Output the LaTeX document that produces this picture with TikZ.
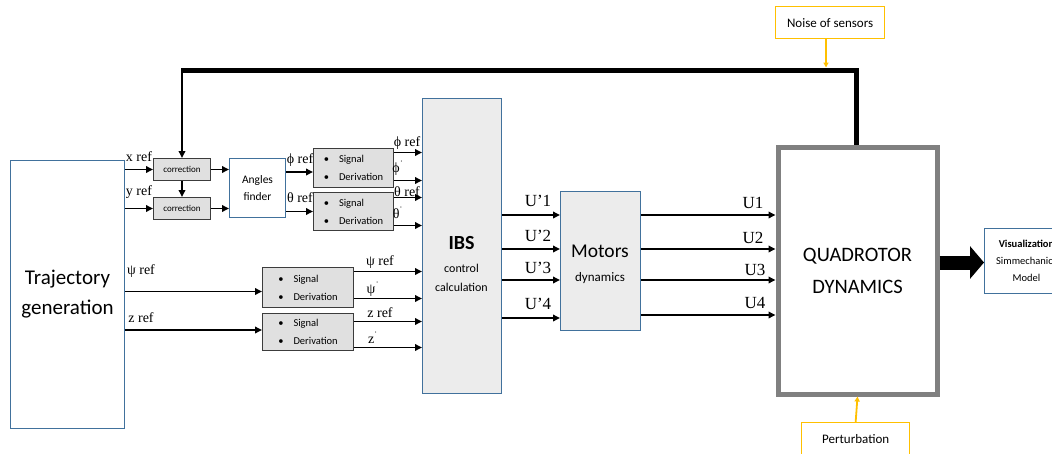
\documentclass[tikz,border=0pt]{standalone}
\usepackage{fontspec}
\setmainfont{Liberation Serif}
\newfontfamily\carl{Carlito}
\usetikzlibrary{arrows.meta}
\definecolor{bluec}{RGB}{65,113,156}
\definecolor{goldc}{RGB}{255,192,0}
\definecolor{lgray}{RGB}{236,236,236}
\definecolor{sdgray}{RGB}{224,224,224}
\definecolor{qgray}{RGB}{128,128,128}
\definecolor{darkc}{RGB}{60,60,60}
\tikzset{
  blk/.style={draw=bluec, line width=1pt, fill=white, inner sep=0pt, align=center, anchor=north west},
  gblk/.style={blk, fill=lgray},
  sdbox/.style={draw=darkc, line width=1pt, fill=sdgray, inner sep=0pt, align=left, anchor=north west,
     font=\carl\fontsize{10.5}{18}\selectfont},
  corrbox/.style={draw=darkc, line width=1pt, fill=sdgray, inner sep=0pt, anchor=north west,
     font=\carl\fontsize{9}{10}\selectfont},
  goldbox/.style={draw=goldc, line width=1.3pt, fill=white, inner sep=0pt, anchor=north west,
     font=\carl\fontsize{13}{15}\selectfont},
  arr/.style={line width=1.8pt, -{Triangle[length=7pt,width=6.5pt]}},
  goldarr/.style={goldc, line width=1.8pt, -{Triangle[length=5pt,width=5pt]}},
  lab/.style={inner sep=0pt, font=\fontsize{14}{14}\selectfont},
  ulab/.style={inner sep=0pt, font=\fontsize{17}{17}\selectfont},
}
\newcommand{\sdtext}{\textbullet\hspace{10pt}Signal\\\textbullet\hspace{10pt}Derivation}
\begin{document}
\begin{tikzpicture}[x=1pt,y=-1pt]
\useasboundingbox (0,0) rectangle (1052,453);
\clip (0,0) rectangle (1052,453);
% main blocks
\node[blk, minimum width=114pt, minimum height=268pt, font=\carl\fontsize{21}{30}\selectfont] (traj) at (10,160) {Trajectory\\generation};
\node[corrbox, minimum width=57pt, minimum height=22pt] (corr1) at (153,158) {correction};
\node[corrbox, minimum width=57pt, minimum height=22pt] (corr2) at (153,197) {correction};
\node[blk, minimum width=56pt, minimum height=59pt, font=\carl\fontsize{11.5}{17}\selectfont] (ang) at (229,158) {Angles\\finder};
\node[sdbox, minimum width=80pt, minimum height=39pt] (sd1) at (313,148) {\sdtext};
\node[sdbox, minimum width=80pt, minimum height=38pt] (sd2) at (313,192) {\sdtext};
\node[sdbox, minimum width=91pt, minimum height=40pt] (sd3) at (262,267) {\sdtext};
\node[sdbox, minimum width=91pt, minimum height=37pt] (sd4) at (262,313) {\sdtext};
\node[gblk, minimum width=79pt, minimum height=295pt] (ibs) at (422,98) {};
\node[font=\carl\bfseries\fontsize{20}{20}\selectfont, inner sep=0pt] (ibst) at (461.5,243) {IBS};
\node[font=\carl\fontsize{12}{19}\selectfont, align=center, inner sep=0pt] (ibsc) at (461.5,278) {control\\calculation};
\node[gblk, minimum width=80pt, minimum height=139pt] (mot) at (560,191) {};
\node[font=\carl\fontsize{19.5}{20}\selectfont, inner sep=0pt] (mott) at (600,251) {Motors};
\node[font=\carl\fontsize{13}{14}\selectfont, inner sep=0pt] (motd) at (600,278) {dynamics};
\node[draw=qgray, line width=5pt, fill=white, inner sep=0pt, anchor=north west, align=center,
      minimum width=159pt, minimum height=247pt, font=\carl\fontsize{20.5}{32}\selectfont] (quad) at (775.5,144.5) {QUADROTOR\\DYNAMICS};
\node[goldbox, minimum width=109pt, minimum height=32pt] (noise) at (775,6) {Noise of sensors};
\node[goldbox, minimum width=108pt, minimum height=36pt] (pert) at (801,422) {\raisebox{4pt}{Perturbation}};
\node[blk, minimum width=84pt, minimum height=65pt, font=\carl\fontsize{10.5}{17}\selectfont] (vis) at (984,228) {\textbf{Visualization}\\Simmechanics\\Model};
% feedback loop
\coordinate (fbR) at (856,70);
\coordinate (fbL) at (182,70);
\draw[line width=5pt, line join=miter] (quad.north -| fbR) -- (fbR) -- ([xshift=-1.5pt]fbL);
\draw[arr] ([yshift=-2pt]fbL) -- (corr1.north -| fbL);
\draw[goldarr] (noise.south -| 826,0) -- ([yshift=2.5pt]fbR -| 826,0);
\draw[goldarr] (pert.north) -- (quad.south);
% inputs
\draw[arr] (corr1.west -| traj.east) -- (corr1.west);
\draw[arr] (corr2.west -| traj.east) -- (corr2.west);
\node[lab] (xref) at (139,157) {x ref};
\node[lab] (yref) at (139,192) {y ref};
\draw[arr] (corr1.south -| fbL) -- (corr2.north -| fbL);
\draw[arr] (corr1.east) -- (corr1.east -| ang.west);
\draw[arr] (corr2.east) -- (corr2.east -| ang.west);
\draw[arr] ([yshift=-4pt]sd1.west -| ang.east) -- ([yshift=-4pt]sd1.west);
\draw[arr] (sd2.west -| ang.east) -- (sd2.west);
\node[lab] (phin) at (300,160) {ϕ ref};
\node[lab] (thin) at (300,198) {θ ref};
\draw[arr] ([yshift=-4pt]sd3.west -| traj.east) -- ([yshift=-4pt]sd3.west);
\draw[arr] ([yshift=2pt]sd4.west -| traj.east) -- ([yshift=2pt]sd4.west);
\node[lab] (psin) at (141,271) {ψ ref};
\node[lab] (zin) at (141,318) {z ref};
% outputs of signal derivation
\draw[arr] ([yshift=15.5pt]sd1.east) -- ([yshift=15.5pt]sd1.east -| ibs.west);
\draw[arr] ([yshift=-12.5pt]sd1.east) -- ([yshift=-12.5pt]sd1.east -| ibs.west);
\draw[arr] ([yshift=14pt]sd2.east) -- ([yshift=14pt]sd2.east -| ibs.west);
\draw[arr] ([yshift=-14pt]sd2.east) -- ([yshift=-14pt]sd2.east -| ibs.west);
\draw[arr] ([yshift=16pt]sd3.east) -- ([yshift=16pt]sd3.east -| ibs.west);
\draw[arr] ([yshift=-11pt]sd3.east) -- ([yshift=-11pt]sd3.east -| ibs.west);
\draw[arr] ([yshift=10.5pt]sd4.east) -- ([yshift=10.5pt]sd4.east -| ibs.west);
\draw[arr] ([yshift=-15.5pt]sd4.east) -- ([yshift=-15.5pt]sd4.east -| ibs.west);
\node[lab] (phout) at (407,143) {ϕ ref};
\node[lab] (phdot) at (398,168) {ϕ\textsuperscript{˙}};
\node[lab] (thout) at (407,192) {θ ref};
\node[lab] (thdot) at (398,213) {θ\textsuperscript{˙}};
\node[lab] (psout) at (380,262) {ψ ref};
\node[lab] (psdot) at (373,289) {ψ\textsuperscript{˙}};
\node[lab] (zout) at (380,313) {z ref};
\node[lab] (zdot) at (373,338) {z\textsuperscript{˙}};
% U' arrows
\foreach \y/\n in {215/1,249/2,280/3,318/4}{
  \draw[arr] (ibs.east |- 0,\y) -- (mot.west |- 0,\y);
}
\node[ulab] (up1) at (538,201) {U’1};
\node[ulab] (up2) at (538,236) {U’2};
\node[ulab] (up3) at (538,268) {U’3};
\node[ulab] (up4) at (538,304) {U’4};
\foreach \y in {215,249,280,315}{
  \draw[arr] (mot.east |- 0,\y) -- (quad.west |- 0,\y);
}
\node[ulab] (u1) at (753,203) {U1};
\node[ulab] (u2) at (753,238) {U2};
\node[ulab] (u3) at (755,270) {U3};
\node[ulab] (u4) at (755,303) {U4};
% big arrow to visualization
\draw[line width=14pt, -{Triangle[length=14pt,width=32pt]}] ([yshift=-1.5pt]quad.east |- vis.west) -- ([yshift=-1.5pt]vis.west);
\end{tikzpicture}
\end{document}
